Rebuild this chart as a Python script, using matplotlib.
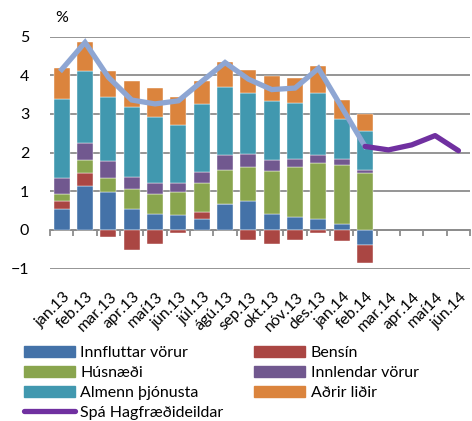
import numpy as np
import matplotlib
matplotlib.use("Agg")
import matplotlib.pyplot as plt
from matplotlib.patches import Patch
from matplotlib.lines import Line2D

plt.rcParams['font.family'] = ['Lato', 'DejaVu Sans']
plt.rcParams['font.size'] = 11.5

months = ['jan.13', 'feb.13', 'mar.13', 'apr.13', 'maí13', 'jún.13', 'júl.13',
          'ágú.13', 'sep.13', 'okt.13', 'nóv.13', 'des.13', 'jan.14', 'feb.14',
          'mar.14', 'apr.14', 'maí14', 'jún.14']

# framlag undirliða til verðbólgu (%), jan.13 - feb.14
innfluttar = [0.53, 1.13, 0.98, 0.55, 0.40, 0.38, 0.29, 0.66, 0.74, 0.42, 0.34, 0.28, 0.16, -0.39]
bensin = [0.22, 0.35, -0.19, -0.53, -0.37, -0.07, 0.18, 0.00, -0.26, -0.36, -0.25, -0.07, -0.28, -0.47]
husnaedi = [0.17, 0.32, 0.36, 0.50, 0.52, 0.59, 0.75, 0.89, 0.90, 1.11, 1.28, 1.45, 1.53, 1.47]
innlendar = [0.43, 0.46, 0.45, 0.33, 0.29, 0.25, 0.27, 0.38, 0.32, 0.29, 0.22, 0.20, 0.14, 0.07]
almenn = [2.03, 1.86, 1.64, 1.79, 1.70, 1.50, 1.78, 1.78, 1.59, 1.52, 1.45, 1.62, 1.03, 1.02]
adrir = [0.80, 0.75, 0.67, 0.67, 0.76, 0.71, 0.58, 0.64, 0.59, 0.63, 0.64, 0.69, 0.51, 0.43]

verdbolga = [4.15, 4.85, 3.95, 3.36, 3.26, 3.34, 3.84, 4.33, 3.90, 3.63, 3.67, 4.18, 3.17, 2.16]
spa = [2.16, 2.07, 2.20, 2.44, 2.05]  # feb.14 - jún.14

series = [
    ('Innfluttar vörur', innfluttar, '#4472A8'),
    ('Bensín', bensin, '#AA4643'),
    ('Húsnæði', husnaedi, '#89A54E'),
    ('Innlendar vörur', innlendar, '#71588F'),
    ('Almenn þjónusta', almenn, '#4198AF'),
    ('Aðrir liðir', adrir, '#DB843D'),
]

fig = plt.figure(figsize=(4.72, 4.21), dpi=100)
ax = fig.add_axes([0.106, 0.362, 0.89, 0.551])

x = np.arange(len(innfluttar))
pos_bottom = np.zeros(len(x))
neg_bottom = np.zeros(len(x))
for name, vals, col in series:
    v = np.array(vals)
    bottom = np.where(v >= 0, pos_bottom, neg_bottom)
    ax.bar(x, v, 0.68, bottom=bottom, color=col, edgecolor='white', linewidth=0.3, zorder=3)
    pos_bottom += np.where(v >= 0, v, 0)
    neg_bottom += np.where(v < 0, v, 0)

ax.plot(x, verdbolga, color='#8EA6D3', lw=3.8, zorder=4, solid_joinstyle='miter')
xs = np.arange(len(x) - 1, len(x) - 1 + len(spa))
ax.plot(xs, spa, color='#7030A0', lw=3.8, zorder=5, solid_capstyle='round')

ax.set_xlim(-0.5, len(months) - 0.5)
ax.set_ylim(-1, 5)
ax.set_yticks(range(-1, 6))
ax.yaxis.grid(True, color='#8C8C8C', lw=1.3, zorder=0)
ax.set_axisbelow(True)

for s in ['left', 'right', 'top']:
    ax.spines[s].set_visible(False)
ax.spines['bottom'].set_position(('data', 0))
ax.spines['bottom'].set_color('#8C8C8C')
ax.spines['bottom'].set_linewidth(1.3)
ax.spines['bottom'].set_zorder(2)

ax.set_xticks(np.arange(len(months)) + 0.05)
ax.set_xticklabels(months, rotation=45, ha='right', va='top', rotation_mode='anchor')
ax.set_xticks(np.arange(len(months) + 1) - 0.5, minor=True)
ax.tick_params(axis='x', which='major', length=0, pad=43)
ax.tick_params(axis='x', which='minor', length=4, width=1.3, color='#8C8C8C', direction='out')
ax.tick_params(axis='y', length=0, pad=15)

fig.text(0.131, 0.957, '%', ha='center', va='center')

handles = [Patch(color=c) for _, _, c in series]
labels = [n for n, _, _ in series]
spa_h = Line2D([], [], color='#7030A0', lw=3.8, solid_capstyle='round')
h = [handles[i] for i in [0, 2, 4]] + [spa_h] + [handles[i] for i in [1, 3, 5]]
l = [labels[i] for i in [0, 2, 4]] + ['Spá Hagfræðideildar'] + [labels[i] for i in [1, 3, 5]]
fig.legend(h, l, loc='upper left', bbox_to_anchor=(0.05, 0.178), ncol=2, frameon=False,
           handlelength=3.2, handleheight=0.7, handletextpad=0.35, labelspacing=0.36,
           columnspacing=1.9, borderaxespad=0, borderpad=0)

fig.savefig('out.png', dpi=100)
